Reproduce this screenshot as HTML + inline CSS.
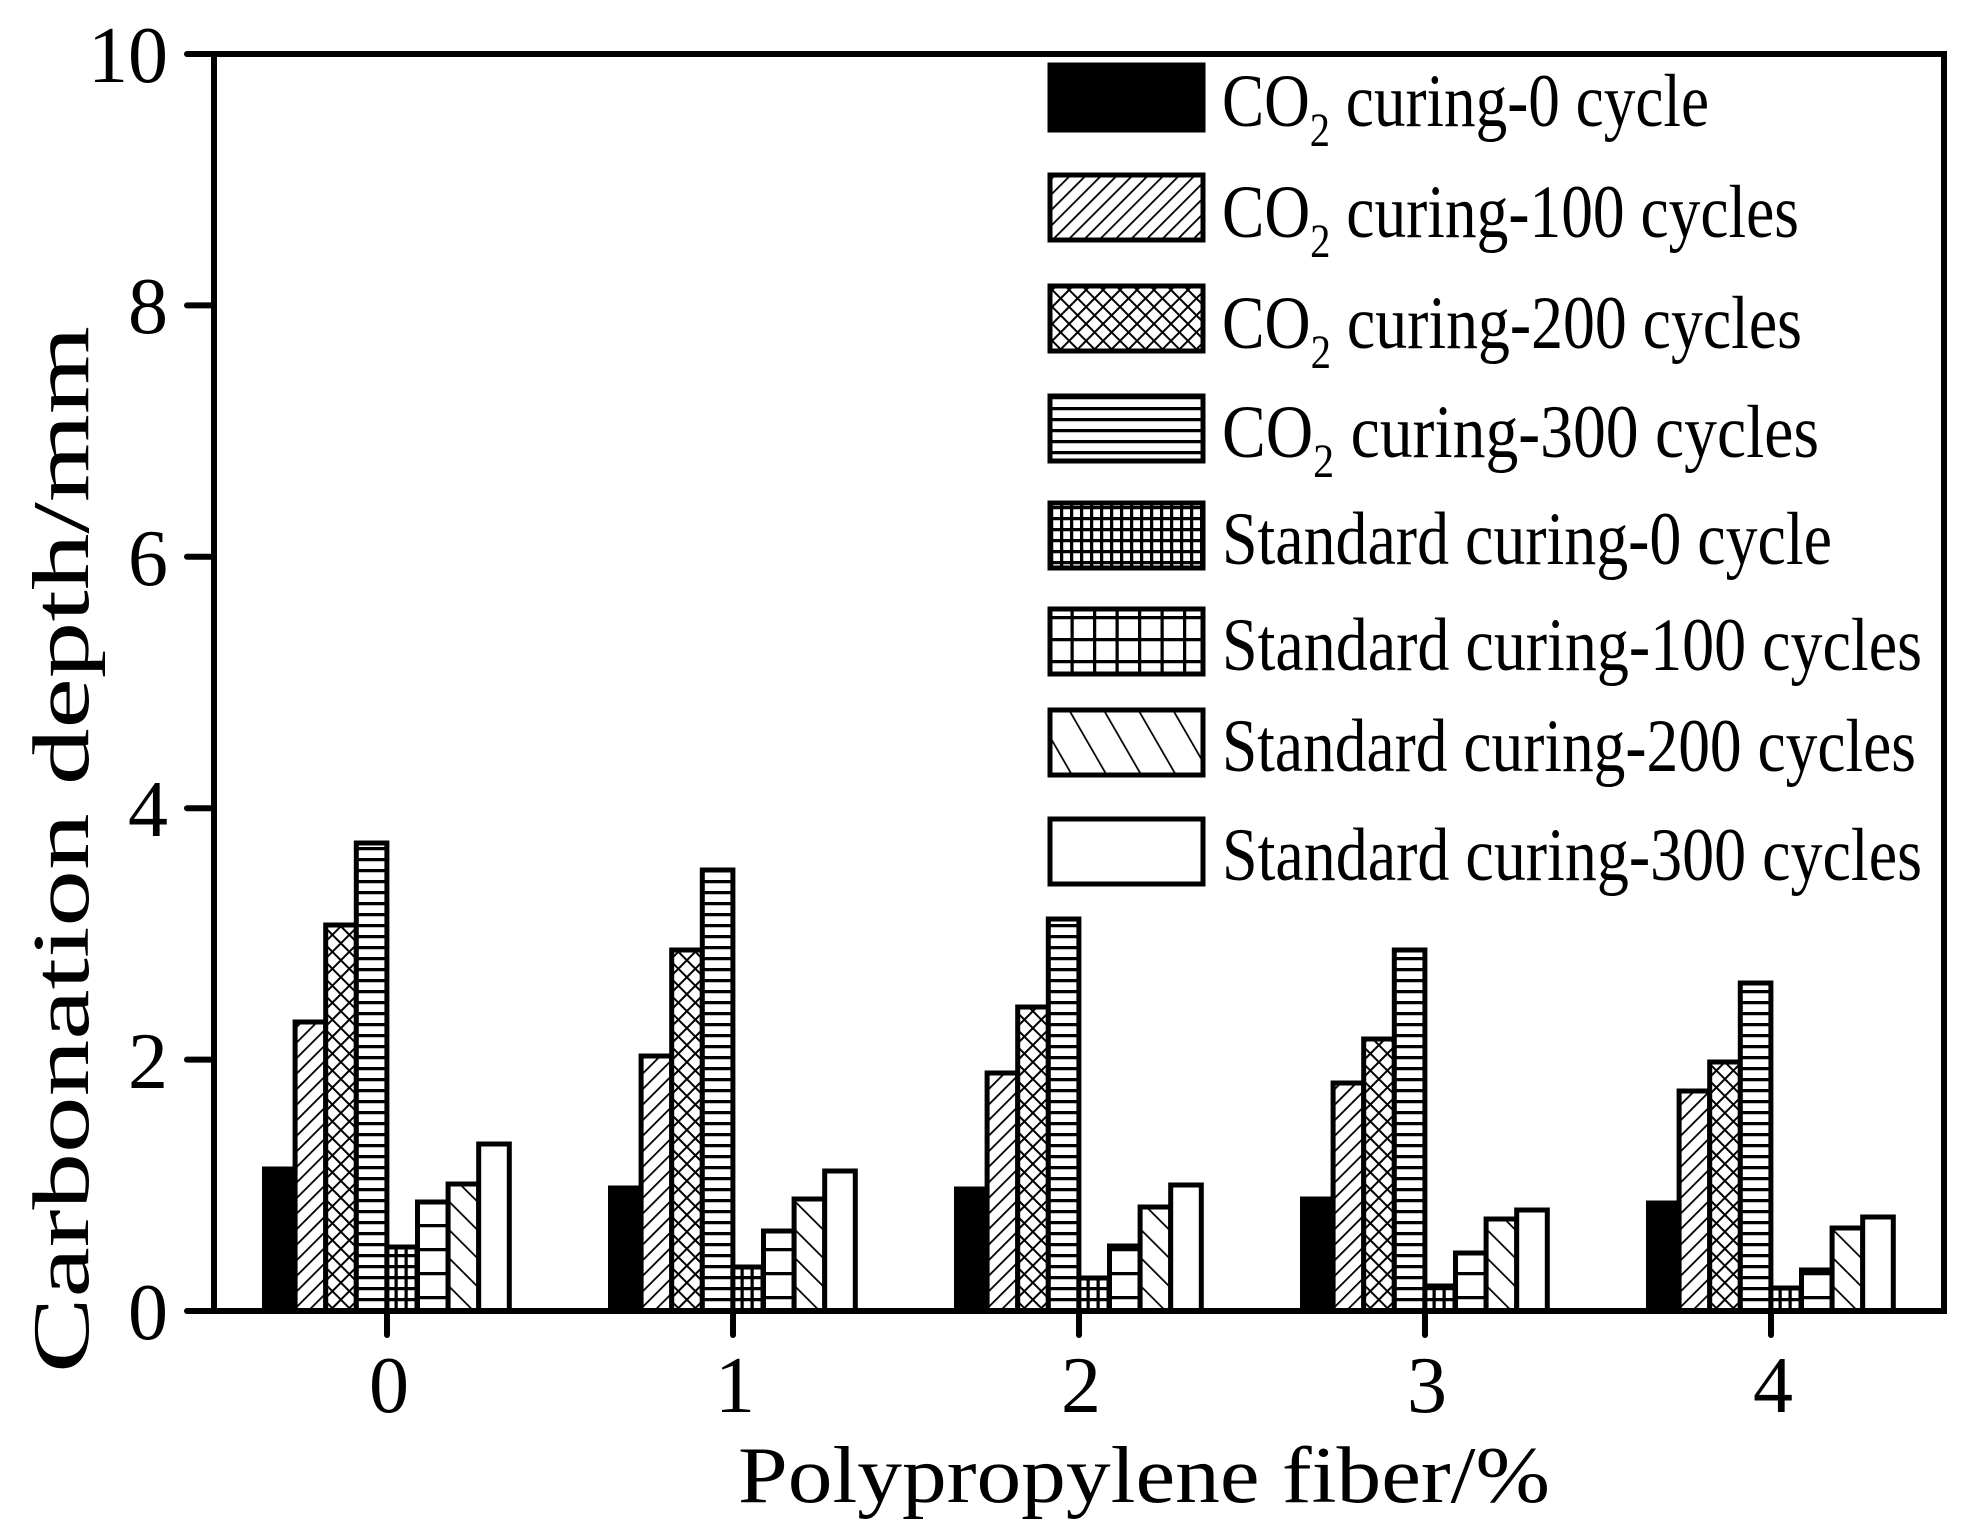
<!DOCTYPE html>
<html><head><meta charset="utf-8"><style>html,body{margin:0;padding:0;background:#fff}svg{display:block}</style></head>
<body>
<svg width="1976" height="1540" viewBox="0 0 1976 1540" xmlns="http://www.w3.org/2000/svg" font-family="'Liberation Serif', serif">
<defs>
<pattern id="p1" patternUnits="userSpaceOnUse" width="11" height="11" patternTransform="rotate(45)"><rect width="11" height="11" fill="#fff"/><line x1="0" y1="0" x2="0" y2="11" stroke="#000" stroke-width="3.6"/></pattern>
<pattern id="p2" patternUnits="userSpaceOnUse" width="12" height="12" patternTransform="rotate(45)"><rect width="12" height="12" fill="#fff"/><line x1="0" y1="0" x2="0" y2="12" stroke="#000" stroke-width="4"/><line x1="0" y1="0" x2="12" y2="0" stroke="#000" stroke-width="4"/></pattern>
<pattern id="p3" patternUnits="userSpaceOnUse" width="11" height="11"><rect width="11" height="11" fill="#fff"/><line x1="0" y1="1.5" x2="11" y2="1.5" stroke="#000" stroke-width="3.5"/></pattern>
<pattern id="p4" patternUnits="userSpaceOnUse" width="10" height="11"><rect width="10" height="11" fill="#fff"/><line x1="0" y1="1.5" x2="10" y2="1.5" stroke="#000" stroke-width="3.5"/><line x1="1.5" y1="0" x2="1.5" y2="11" stroke="#000" stroke-width="3.5"/></pattern>
<pattern id="p5" patternUnits="userSpaceOnUse" width="30.6" height="24"><rect width="30.6" height="24" fill="#fff"/><line x1="0" y1="1.5" x2="30.6" y2="1.5" stroke="#000" stroke-width="3.5"/></pattern>
<pattern id="p6" patternUnits="userSpaceOnUse" width="20" height="20" patternTransform="rotate(-45)"><rect width="20" height="20" fill="#fff"/><line x1="0" y1="0" x2="0" y2="20" stroke="#000" stroke-width="3.5"/></pattern>
<pattern id="p5l" patternUnits="userSpaceOnUse" width="22.5" height="22" x="1048" y="0"><rect width="22.5" height="22" fill="#fff"/><line x1="0" y1="1.5" x2="22.5" y2="1.5" stroke="#000" stroke-width="3.5"/><line x1="1.5" y1="0" x2="1.5" y2="22" stroke="#000" stroke-width="3.5"/></pattern>
<pattern id="p6l" patternUnits="userSpaceOnUse" width="30" height="30" patternTransform="rotate(-30)"><rect width="30" height="30" fill="#fff"/><line x1="0" y1="0" x2="0" y2="30" stroke="#000" stroke-width="3.5"/></pattern>
</defs>

<g stroke="#000" stroke-width="5">
<g transform="translate(264.5,0)">
<rect x="0" y="1169" width="30.6" height="142" fill="#000"/>
<rect x="30.6" y="1022" width="30.6" height="289" fill="url(#p1)"/>
<rect x="61.2" y="925" width="30.6" height="386" fill="url(#p2)"/>
<rect x="91.8" y="843" width="30.6" height="468" fill="url(#p3)"/>
<rect x="122.4" y="1247" width="30.6" height="64" fill="url(#p4)"/>
<rect x="153" y="1202" width="30.6" height="109" fill="url(#p5)"/>
<rect x="183.6" y="1184" width="30.6" height="127" fill="url(#p6)"/>
<rect x="214.2" y="1144" width="30.6" height="167" fill="#fff"/>
</g>
<g transform="translate(610.5,0)">
<rect x="0" y="1188" width="30.6" height="123" fill="#000"/>
<rect x="30.6" y="1056" width="30.6" height="255" fill="url(#p1)"/>
<rect x="61.2" y="950" width="30.6" height="361" fill="url(#p2)"/>
<rect x="91.8" y="870" width="30.6" height="441" fill="url(#p3)"/>
<rect x="122.4" y="1267" width="30.6" height="44" fill="url(#p4)"/>
<rect x="153" y="1231" width="30.6" height="80" fill="url(#p5)"/>
<rect x="183.6" y="1199" width="30.6" height="112" fill="url(#p6)"/>
<rect x="214.2" y="1171" width="30.6" height="140" fill="#fff"/>
</g>
<g transform="translate(956.5,0)">
<rect x="0" y="1189" width="30.6" height="122" fill="#000"/>
<rect x="30.6" y="1073" width="30.6" height="238" fill="url(#p1)"/>
<rect x="61.2" y="1007" width="30.6" height="304" fill="url(#p2)"/>
<rect x="91.8" y="919" width="30.6" height="392" fill="url(#p3)"/>
<rect x="122.4" y="1278" width="30.6" height="33" fill="url(#p4)"/>
<rect x="153" y="1246" width="30.6" height="65" fill="url(#p5)"/>
<rect x="183.6" y="1207" width="30.6" height="104" fill="url(#p6)"/>
<rect x="214.2" y="1185" width="30.6" height="126" fill="#fff"/>
</g>
<g transform="translate(1302.5,0)">
<rect x="0" y="1199" width="30.6" height="112" fill="#000"/>
<rect x="30.6" y="1083" width="30.6" height="228" fill="url(#p1)"/>
<rect x="61.2" y="1039" width="30.6" height="272" fill="url(#p2)"/>
<rect x="91.8" y="950" width="30.6" height="361" fill="url(#p3)"/>
<rect x="122.4" y="1286" width="30.6" height="25" fill="url(#p4)"/>
<rect x="153" y="1253" width="30.6" height="58" fill="url(#p5)"/>
<rect x="183.6" y="1219" width="30.6" height="92" fill="url(#p6)"/>
<rect x="214.2" y="1210" width="30.6" height="101" fill="#fff"/>
</g>
<g transform="translate(1648.5,0)">
<rect x="0" y="1203" width="30.6" height="108" fill="#000"/>
<rect x="30.6" y="1091" width="30.6" height="220" fill="url(#p1)"/>
<rect x="61.2" y="1062" width="30.6" height="249" fill="url(#p2)"/>
<rect x="91.8" y="983" width="30.6" height="328" fill="url(#p3)"/>
<rect x="122.4" y="1288" width="30.6" height="23" fill="url(#p4)"/>
<rect x="153" y="1270" width="30.6" height="41" fill="url(#p5)"/>
<rect x="183.6" y="1228" width="30.6" height="83" fill="url(#p6)"/>
<rect x="214.2" y="1217" width="30.6" height="94" fill="#fff"/>
</g>
</g>

<rect x="214" y="54" width="1730" height="1257" fill="none" stroke="#000" stroke-width="6"/>
<g stroke="#000" stroke-width="6" stroke-linecap="round">
<line x1="187" y1="54" x2="214" y2="54"/>
<line x1="187" y1="305.4" x2="214" y2="305.4"/>
<line x1="187" y1="556.8" x2="214" y2="556.8"/>
<line x1="187" y1="808.2" x2="214" y2="808.2"/>
<line x1="187" y1="1059.6" x2="214" y2="1059.6"/>
<line x1="187" y1="1311" x2="214" y2="1311"/>
<line x1="387" y1="1311" x2="387" y2="1335"/>
<line x1="733" y1="1311" x2="733" y2="1335"/>
<line x1="1079" y1="1311" x2="1079" y2="1335"/>
<line x1="1425" y1="1311" x2="1425" y2="1335"/>
<line x1="1771" y1="1311" x2="1771" y2="1335"/>
</g>
<g font-size="80" text-anchor="end">
<text x="168" y="82">10</text>
<text x="168" y="333">8</text>
<text x="168" y="585">6</text>
<text x="168" y="836">4</text>
<text x="168" y="1088">2</text>
<text x="168" y="1339">0</text>
</g>
<g font-size="80" text-anchor="middle">
<text x="389" y="1412">0</text>
<text x="735" y="1412">1</text>
<text x="1081" y="1412">2</text>
<text x="1427" y="1412">3</text>
<text x="1773" y="1412">4</text>
</g>
<text x="738" y="1502" font-size="80" textLength="812" lengthAdjust="spacingAndGlyphs">Polypropylene fiber/%</text>
<text transform="translate(88,1373) rotate(-90)" font-size="80" textLength="1047" lengthAdjust="spacingAndGlyphs">Carbonation depth/mm</text>

<g stroke="#000" stroke-width="5">
<rect x="1050" y="65" width="153" height="65" fill="#000"/>
<rect x="1050" y="175" width="153" height="65" fill="url(#p1)"/>
<rect x="1050" y="286" width="153" height="65" fill="url(#p2)"/>
<rect x="1050" y="396" width="153" height="65" fill="url(#p3)"/>
<rect x="1050" y="503" width="153" height="65" fill="url(#p4)"/>
<rect x="1050" y="609" width="153" height="65" fill="url(#p5l)"/>
<rect x="1050" y="710" width="153" height="65" fill="url(#p6l)"/>
<rect x="1050" y="819" width="153" height="65" fill="#fff"/>
</g>
<g font-size="75">
<text x="1222" y="126" textLength="487" lengthAdjust="spacingAndGlyphs">CO<tspan font-size="48" dy="20">2</tspan><tspan dy="-20"> curing-0 cycle</tspan></text>
<text x="1222" y="237" textLength="577" lengthAdjust="spacingAndGlyphs">CO<tspan font-size="48" dy="20">2</tspan><tspan dy="-20"> curing-100 cycles</tspan></text>
<text x="1222" y="348" textLength="580" lengthAdjust="spacingAndGlyphs">CO<tspan font-size="48" dy="20">2</tspan><tspan dy="-20"> curing-200 cycles</tspan></text>
<text x="1222" y="457" textLength="597" lengthAdjust="spacingAndGlyphs">CO<tspan font-size="48" dy="20">2</tspan><tspan dy="-20">  curing-300 cycles</tspan></text>
<text x="1222" y="564" textLength="610" lengthAdjust="spacingAndGlyphs">Standard curing-0 cycle</text>
<text x="1222" y="670" textLength="700" lengthAdjust="spacingAndGlyphs">Standard curing-100 cycles</text>
<text x="1222" y="771" textLength="694" lengthAdjust="spacingAndGlyphs">Standard curing-200 cycles</text>
<text x="1222" y="880" textLength="700" lengthAdjust="spacingAndGlyphs">Standard curing-300 cycles</text>
</g>
</svg>
</body></html>
